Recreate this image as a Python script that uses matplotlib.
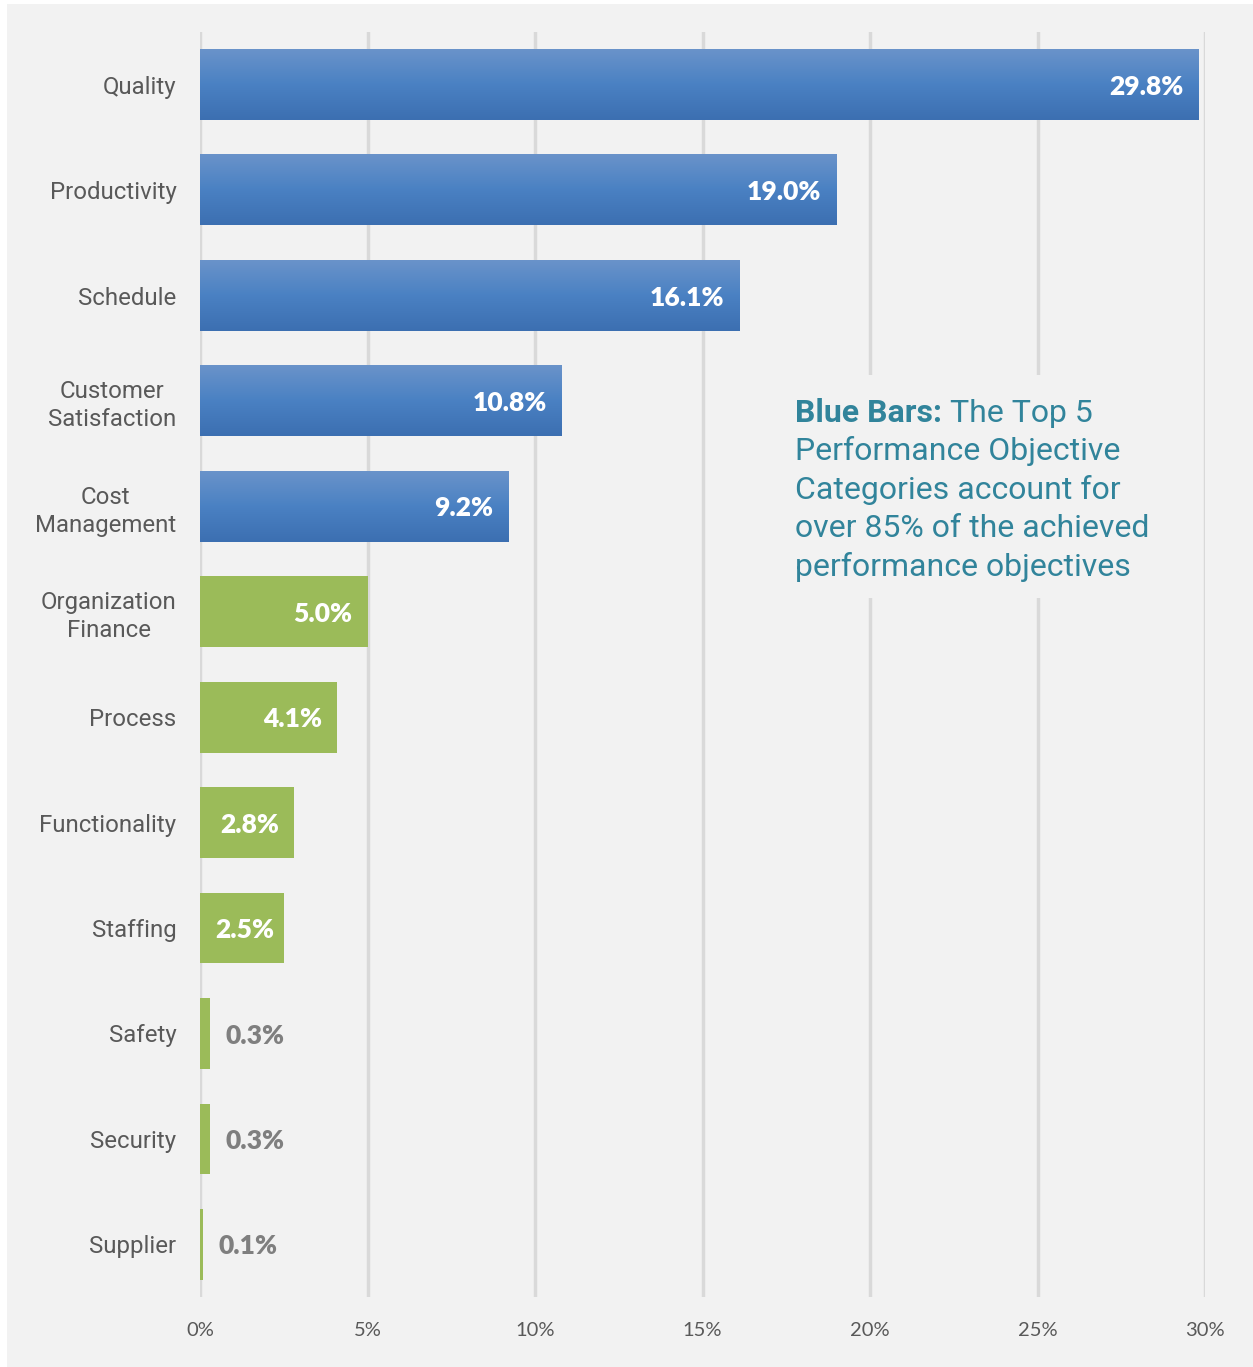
import numpy as np
import matplotlib.pyplot as plt
from matplotlib.colors import LinearSegmentedColormap
from matplotlib.patches import Rectangle

# Categories and share of achieved performance objectives (%)
categories = ["Quality", "Productivity", "Schedule", "Customer\nSatisfaction",
              "Cost\nManagement", "Organization\nFinance", "Process",
              "Functionality", "Staffing", "Safety", "Security", "Supplier"]
values = [29.8, 19.0, 16.1, 10.8, 9.2, 5.0, 4.1, 2.8, 2.5, 0.3, 0.3, 0.1]
top_n = 5
x_ticks = [0, 5, 10, 15, 20, 25, 30]
x_tick_labels = ["0%", "5%", "10%", "15%", "20%", "25%", "30%"]

callout_bold = "Blue Bars:"
callout_lines = [" The Top 5", "Performance Objective", "Categories account for",
                 "over 85% of the achieved", "performance objectives"]

BG = "#f2f2f2"
GREEN = "#9bbb59"
TEAL = "#31849b"
blue_grad = LinearSegmentedColormap.from_list(
    "blue_grad", ["#3c6fb1", "#4a81c3", "#6a93ca"])

W, H = 1253, 1367
fig = plt.figure(figsize=(W / 100, H / 100), dpi=100, facecolor="white")
# grey panel behind the chart
fig.patches.append(Rectangle((7 / W, 0), 1 - 7 / W, 1 - 4 / H,
                             transform=fig.transFigure, facecolor=BG,
                             edgecolor="none", zorder=-10))

ax = fig.add_axes([200 / W, 1 - 1297 / H, (1205 - 200) / W, (1297 - 32) / H])
ax.patch.set_alpha(0)

ypos = np.arange(len(categories))
bar_h = 0.67

# vertical gridlines
for t in x_ticks:
    ax.axvline(t, color="#d9d9d9", lw=2.5, zorder=0)

grad = np.linspace(0, 1, 256).reshape(-1, 1)
for i, v in enumerate(values):
    y0 = ypos[i] - bar_h / 2
    y1 = ypos[i] + bar_h / 2
    if i < top_n:
        # top-to-bottom gradient fill for the leading categories
        ax.imshow(grad[::-1], cmap=blue_grad, aspect="auto",
                  extent=(0, v, y1, y0), zorder=2, interpolation="bilinear")
    else:
        ax.barh(ypos[i], v, height=bar_h, color=GREEN, zorder=2)

ax.set_xlim(0, 30)
ax.set_ylim(len(categories) - 0.5, -0.5)

# value labels: inside the bar when it is wide enough, otherwise just past it
pad = 0.45
label_w = 1.76
for i, v in enumerate(values):
    txt = f"{v:.1f}%"
    if v > 1:
        x = max(v - pad, pad + label_w)
        ax.text(x, ypos[i] + 0.02, txt, ha="right", va="center",
                color="white", fontsize=19, fontweight="heavy",
                family="Lato", zorder=4)
    else:
        ax.text(v + pad, ypos[i] + 0.02, txt, ha="left", va="center",
                color="#7f7f7f", fontsize=19, fontweight="heavy",
                family="Lato", zorder=4)

ax.set_yticks(ypos)
ax.set_yticklabels(categories, family="Roboto", fontsize=17.3, color="#595959",
                   linespacing=1.27, ha="right", multialignment="center")
ax.tick_params(axis="y", length=0, pad=17)
ax.set_xticks(x_ticks)
ax.set_xticklabels(x_tick_labels, family="Lato", fontsize=14.5, color="#595959")
ax.tick_params(axis="x", length=0, pad=18)
for s in ax.spines.values():
    s.set_visible(False)

# callout about the top five categories, on a patch that hides the gridlines
ax.add_patch(Rectangle((17.6, 2.75), 10.8, 2.12, facecolor=BG,
                       edgecolor="none", zorder=1))
cx, cy, step = 17.75, 3.195, 0.366
head = ax.text(cx, cy, callout_bold, ha="left", va="baseline", color=TEAL,
               fontsize=23, fontweight="bold", family="Roboto", zorder=5)
fig.canvas.draw()
bb = head.get_window_extent().transformed(ax.transData.inverted())
ax.text(bb.x1, cy, callout_lines[0], ha="left", va="baseline", color=TEAL,
        fontsize=23, family="Roboto", zorder=5)
for k, line in enumerate(callout_lines[1:], start=1):
    ax.text(cx, cy + k * step, line, ha="left", va="baseline", color=TEAL,
            fontsize=23, family="Roboto", zorder=5)

fig.savefig("out.png", dpi=100, facecolor="white")
